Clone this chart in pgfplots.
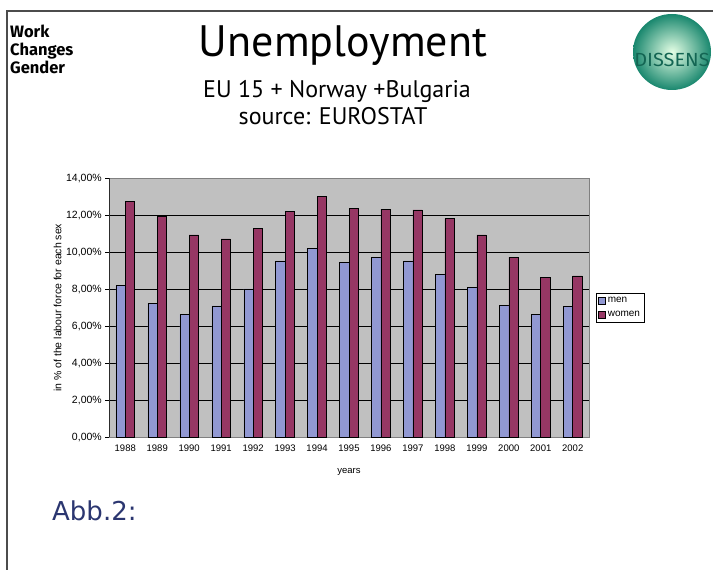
\documentclass[border=0pt]{standalone}
\usepackage{fontspec}
\setmainfont{Liberation Sans}
\newfontfamily\titlefont{PT Sans}
\newfontfamily\workfont{Fira Sans}
\newfontfamily\abbfont{DejaVu Sans}
\usepackage{pgfplots}
\pgfplotsset{compat=1.18}

\definecolor{menblue}{RGB}{145,152,210}
\definecolor{womenred}{RGB}{150,55,100}
\definecolor{plotgrey}{RGB}{192,192,192}
\definecolor{abbblue}{RGB}{43,54,112}
\definecolor{logogreen}{RGB}{25,135,110}

\begin{document}
\begin{tikzpicture}
\path[use as bounding box] (0,0) rectangle (713pt,570pt);

% slide frame
\draw[gray!60!black, line width=1.2pt] (7pt,0pt) -- (7pt,559pt) -- (713pt,559pt);

% header texts
\tikzset{work/.style={anchor=base west, font=\workfont\bfseries\fontsize{16.5}{18}\selectfont, inner sep=0pt}}
\node[work] at (10pt,532pt) {Work};
\node[work] at (10pt,514pt) {Changes};
\node[work] at (10pt,496pt) {Gender};
\node[anchor=base, font=\titlefont\fontsize{44}{46}\selectfont, inner sep=0pt] at (343pt,513.3pt) {Unemployment};
\node[anchor=base, font=\titlefont\fontsize{24}{26}\selectfont, inner sep=0pt] at (337pt,472.7pt) {EU 15 + Norway +Bulgaria};
\node[anchor=base, font=\titlefont\fontsize{24}{26}\selectfont, inner sep=0pt] at (333pt,445pt) {source: EUROSTAT};

% logo
\shade[inner color=green!10!white, outer color=logogreen] (672pt,518pt) ellipse (39pt and 38pt);
\node[font=\workfont\fontsize{19}{20}\selectfont, text=logogreen!75!black, xscale=1.05, inner sep=0pt] at (672pt,510pt) {DISSENS};

\node[anchor=base west, font=\abbfont\fontsize{26}{28}\selectfont, text=abbblue, inner sep=0pt] at (52pt,49.3pt) {Abb.2:};

\begin{axis}[
  at={(109.3pt,132.7pt)}, anchor=south west,
  width=479.4pt, height=259pt, scale only axis,
  ybar=0pt, bar width=9.3pt,
  xmin=-0.5, xmax=14.5, ymin=0, ymax=14,
  xtick={0,...,14},
  xticklabels={1988,1989,1990,1991,1992,1993,1994,1995,1996,1997,1998,1999,2000,2001,2002},
  major x tick style={draw=none},
  extra x ticks={-0.5,0.5,...,14.5},
  extra x tick labels={},
  extra x tick style={tick style={black, line width=0.6pt, draw=black}, major tick length=4pt, grid=none},
  ytick={0,2,...,14},
  ymajorgrids,
  grid style={black, line width=0.6pt},
  tick align=outside,
  xtick pos=bottom, ytick pos=left,
  major tick length=4pt,
  ytick style={black, line width=0.6pt},
  axis background/.style={fill=plotgrey},
  axis line style={gray},
  /pgf/number format/assume math mode=true,
  yticklabel={\pgfmathprintnumber[fixed,fixed zerofill,precision=2,use comma]{\tick}\%},
  xticklabel style={font=\fontsize{9.5}{11}\selectfont},
  yticklabel style={font=\fontsize{10.5}{12}\selectfont},
  ylabel={in \% of the labour force for each sex},
  ylabel style={at={(axis description cs:-0.1077,0.5)}, anchor=center, font=\fontsize{10.5}{12}\selectfont},
  xlabel={years},
  xlabel style={at={(axis description cs:0.5,-0.134)}, anchor=center, font=\fontsize{9.5}{11}\selectfont},
  legend cell align=left,
  legend style={at={(axis description cs:1.015,0.5)}, anchor=west, draw=black, fill=white,
    font=\fontsize{10}{12}\selectfont, inner sep=2pt, row sep=3pt, line width=0.6pt},
  legend image code/.code={\draw[#1] (0pt,-3.5pt) rectangle (7pt,3.5pt);},
]
\addplot[fill=menblue, draw=black, line width=0.6pt]
  coordinates {(0,8.19) (1,7.24) (2,6.65) (3,7.10) (4,8.02) (5,9.53) (6,10.21) (7,9.44)
    (8,9.74) (9,9.53) (10,8.81) (11,8.12) (12,7.14) (13,6.63) (14,7.06)};
\addlegendentry{men}
\addplot[fill=womenred, draw=black, line width=0.6pt]
  coordinates {(0,12.77) (1,11.96) (2,10.94) (3,10.72) (4,11.30) (5,12.22) (6,13.04) (7,12.38)
    (8,12.34) (9,12.29) (10,11.82) (11,10.94) (12,9.74) (13,8.65) (14,8.72)};
\addlegendentry{women}
\draw[black, line width=0.8pt] (axis cs:-0.5,0) -- (axis cs:-0.5,14);
\end{axis}
\end{tikzpicture}
\end{document}
